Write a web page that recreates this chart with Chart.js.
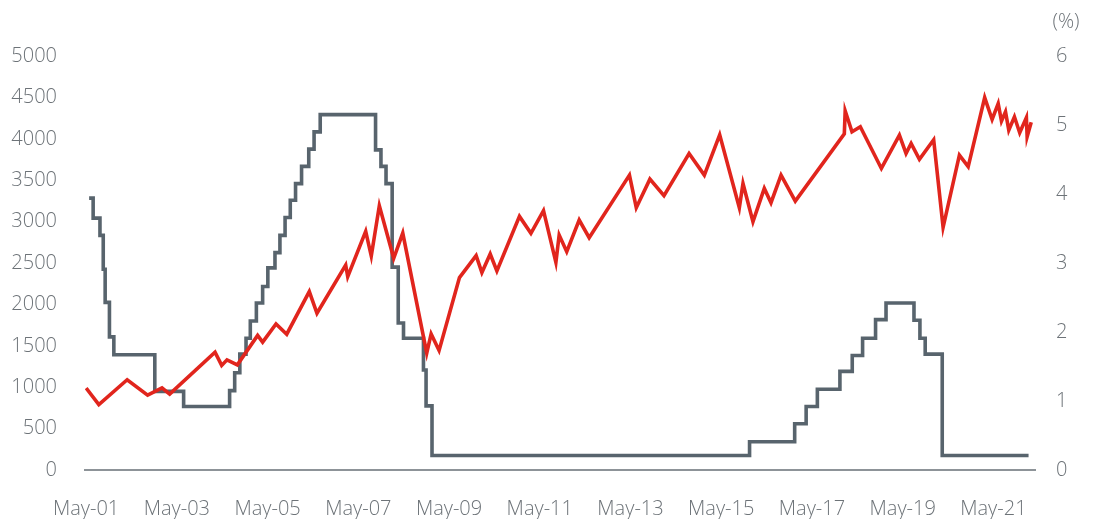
<!DOCTYPE html>
<html>
<head>
<meta charset="utf-8">
<script src="https://cdn.jsdelivr.net/npm/chart.js@4.4.1/dist/chart.umd.min.js"></script>
<style>
  html, body { margin: 0; padding: 0; background: #ffffff; }
  #wrap { width: 1094px; height: 519px; position: relative; }
</style>
</head>
<body>
<div id="wrap"><canvas id="c" width="1094" height="519"></canvas></div>
<script>
// ---- Data ----
const tickDates  = ['2001-05-01','2003-05-01','2005-05-01','2007-05-01','2009-05-01','2011-05-01','2013-05-01','2015-05-01','2017-05-01','2019-05-01','2021-05-01'];
const tickLabels = ['May-01','May-03','May-05','May-07','May-09','May-11','May-13','May-15','May-17','May-19','May-21'];

// Index level (left axis)
const indexDates = ['2001-05-01','2001-08-12','2002-03-27','2002-09-09','2003-01-03','2003-03-04','2004-03-04','2004-04-27','2004-06-09','2004-09-01',
  '2005-02-12','2005-03-22','2005-07-08','2005-10-03','2006-04-02','2006-06-03','2007-01-21','2007-02-07','2007-06-30','2007-08-14',
  '2007-10-18','2008-02-12','2008-04-24','2008-11-04','2008-12-09','2009-02-12','2009-07-24','2009-12-06','2010-01-22','2010-03-28',
  '2010-05-21','2010-11-20','2011-02-21','2011-05-31','2011-09-09','2011-10-05','2011-12-05','2012-03-14','2012-06-03','2013-04-23',
  '2013-06-17','2013-10-05','2014-01-27','2014-08-16','2014-12-17','2015-04-19','2015-09-25','2015-10-24','2016-01-13','2016-04-13',
  '2016-06-06','2016-08-26','2016-12-19','2018-01-18','2018-01-25','2018-03-19','2018-05-25','2018-11-12','2019-04-05','2019-05-28',
  '2019-07-08','2019-09-14','2020-01-07','2020-03-22','2020-08-01','2020-10-11','2021-02-22','2021-04-21','2021-06-09','2021-07-05',
  '2021-08-07','2021-09-03','2021-10-18','2021-11-30','2022-01-23','2022-01-29','2022-03-01'];
const indexValues = [990,790,1090,905,993,917,1423,1263,1330,1270,
  1625,1544,1764,1640,2155,1893,2476,2336,2882,2584,
  3192,2557,2862,1411,1644,1444,2324,2589,2384,2609,
  2404,3063,2858,3132,2508,2838,2637,3019,2806,3561,
  3168,3513,3313,3823,3561,4049,3168,3461,2999,3401,
  3228,3561,3248,4060,4338,4085,4145,3642,4044,3823,
  3944,3751,3988,2931,3803,3663,4498,4233,4426,4213,
  4326,4104,4266,4073,4257,4024,4200];

// Policy rate, % (right axis), value in force from each date
const rateDates = ['2001-05-25','2001-06-27','2001-08-21','2001-09-17','2001-10-02','2001-11-06','2001-12-11','2002-11-06','2003-06-25',
  '2004-06-30','2004-08-10','2004-09-21','2004-11-10','2004-12-14','2005-02-02','2005-03-22','2005-05-03','2005-06-30','2005-08-09',
  '2005-09-20','2005-11-01','2005-12-13','2006-01-31','2006-03-28','2006-05-10','2006-06-29','2007-09-18','2007-10-31','2007-12-11',
  '2008-01-30','2008-03-18','2008-04-30','2008-10-08','2008-10-29','2008-12-16','2015-12-16','2016-12-14','2017-03-15','2017-06-14',
  '2017-12-13','2018-03-21','2018-06-13','2018-09-26','2018-12-19','2019-07-31','2019-09-18','2019-10-30','2020-03-15','2022-02-10'];
const rateValues = [3.94,3.65,3.40,2.91,2.43,1.93,1.67,1.14,0.92,
  1.15,1.41,1.68,1.91,2.16,2.42,2.66,2.93,3.15,3.40,
  3.66,3.91,4.15,4.40,4.65,4.90,5.15,4.64,4.40,4.15,
  2.94,2.13,1.91,1.45,0.93,0.21,0.41,0.67,0.92,1.17,
  1.43,1.66,1.91,2.18,2.42,2.17,1.91,1.68,0.21,0.21];

// ---- helpers ----
function toMonths(s) {
  const p = s.split('-').map(Number);
  return (p[0] - 2001) * 12 + (p[1] - 5) + (p[2] - 1) / 30.4;
}
const tickPos = tickDates.map(toMonths);
const labelAt = {};
tickPos.forEach((v, i) => { labelAt[v.toFixed(3)] = tickLabels[i]; });

const TEXT = '#6d7378';
const FONT = { family: "'Open Sans', 'Noto Sans', sans-serif", size: 20, weight: 300 };

const pctLabel = {
  id: 'pctLabel',
  afterDraw(chart) {
    const ctx = chart.ctx;
    ctx.save();
    ctx.font = "300 20px 'Open Sans', 'Noto Sans', sans-serif";
    ctx.fillStyle = TEXT;
    ctx.textAlign = 'center';
    ctx.textBaseline = 'middle';
    ctx.fillText('(%)', 1066, 22);
    ctx.restore();
  }
};

new Chart(document.getElementById('c'), {
  type: 'line',
  data: {
    datasets: [
      {
        label: 'Index',
        data: indexDates.map((d, i) => ({ x: toMonths(d), y: indexValues[i] })),
        yAxisID: 'y',
        borderColor: '#e1251d',
        borderWidth: 3.6,
        pointRadius: 0,
        tension: 0,
        order: 1
      },
      {
        label: 'Rate',
        data: rateDates.map((d, i) => ({ x: toMonths(d), y: rateValues[i] })),
        yAxisID: 'y1',
        stepped: 'before',
        borderColor: '#58646d',
        borderWidth: 3.6,
        pointRadius: 0,
        order: 2
      }
    ]
  },
  options: {
    responsive: false,
    animation: false,
    devicePixelRatio: 1,
    layout: { padding: { top: 56, right: 0, bottom: 0, left: 0 } },
    plugins: { legend: { display: false }, tooltip: { enabled: false } },
    scales: {
      x: {
        type: 'linear',
        min: -0.3,
        max: 251,
        grid: { display: false, drawTicks: false },
        border: { display: true, color: '#8d9398', width: 2 },
        afterBuildTicks(scale) { scale.ticks = tickPos.map(v => ({ value: v })); },
        afterFit(scale) { scale.height = 49; },
        ticks: {
          autoSkip: false,
          maxRotation: 0,
          padding: 27,
          color: TEXT,
          font: FONT,
          callback: (v) => labelAt[Number(v).toFixed(3)] || ''
        }
      },
      y: {
        position: 'left',
        min: 0,
        max: 5000,
        grid: { display: false, drawTicks: false },
        border: { display: false },
        afterFit(scale) { scale.width = 85; },
        ticks: { stepSize: 500, padding: 28, color: TEXT, font: FONT, callback: (v) => String(v) }
      },
      y1: {
        position: 'right',
        min: 0,
        max: 6,
        grid: { display: false, drawTicks: false },
        border: { display: false },
        afterFit(scale) { scale.width = 59; },
        ticks: { stepSize: 1, padding: 21, color: TEXT, font: FONT, callback: (v) => String(v) }
      }
    }
  },
  plugins: [pctLabel]
});
</script>
</body>
</html>
